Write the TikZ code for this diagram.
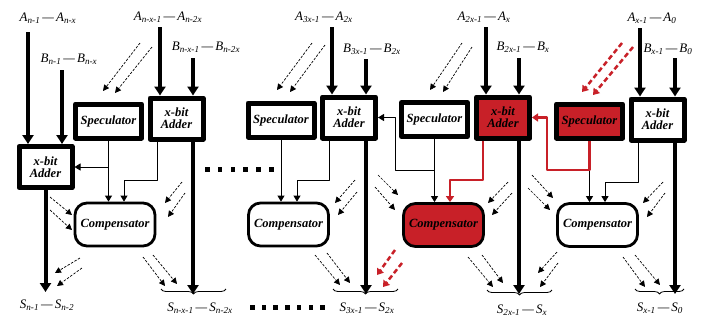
\documentclass[tikz,border=0pt]{standalone}
\usepackage{fontspec}
\setmainfont{Liberation Serif}
\usetikzlibrary{arrows.meta,decorations.pathreplacing}
\definecolor{hotred}{RGB}{200,32,40}
\newcommand{\boxfont}{\fontsize{12.5}{12}\selectfont\bfseries\itshape}
\newcommand{\sigfont}{\fontsize{13}{13}\selectfont\itshape}
\newcommand{\rng}[4]{#1\textsubscript{\itshape #2}\,---\,#3\textsubscript{\itshape #4}}
\tikzset{
  adder/.style={draw,line width=5pt,minimum width=53pt,minimum height=41pt,align=center,inner sep=1pt,font=\boxfont},
  spec/.style={draw,line width=5pt,minimum width=66pt,minimum height=34pt,inner sep=1pt,font=\boxfont},
  comp/.style={draw,line width=2.8pt,rounded corners=12pt,minimum width=80pt,minimum height=43pt,inner sep=1pt,font=\boxfont},
  bus/.style={line width=4pt,-{Triangle[length=9pt,width=11pt]}},
  wire/.style={line width=0.9pt,-{Triangle[length=6pt,width=7pt]}},
  rwire/.style={hotred,line width=2.2pt,-{Triangle[length=6pt,width=8pt]}},
  dasharr/.style={dash pattern=on 2.5pt off 1.5pt,line width=0.7pt,-{Triangle[length=6pt,width=6pt]}},
  rdash/.style={hotred,line width=2.5pt,dash pattern=on 5pt off 3pt,-{Triangle[length=6pt,width=8pt]}},
  brc/.style={decorate,decoration={brace,mirror,amplitude=5pt},line width=0.8pt},
  sig/.style={font=\sigfont,inner sep=1pt}
}
\begin{document}
\begin{tikzpicture}[x=1pt,y=-1pt,line join=round]
\useasboundingbox (0,0) rectangle (702,322);
% operand labels
\node[sig] (la1) at (48,18) {\rng{A}{n-1}{A}{n-x}};
\node[sig] (lb1) at (69,59) {\rng{B}{n-1}{B}{n-x}};
\node[sig] (la2) at (168,17) {\rng{A}{n-x-1}{A}{n-2x}};
\node[sig] (lb2) at (206,47) {\rng{B}{n-x-1}{B}{n-2x}};
\node[sig] (la3) at (324,17) {\rng{A}{3x-1}{A}{2x}};
\node[sig] (lb3) at (372,49) {\rng{B}{3x-1}{B}{2x}};
\node[sig] (la4) at (484,17) {\rng{A}{2x-1}{A}{x}};
\node[sig] (lb4) at (523,47) {\rng{B}{2x-1}{B}{x}};
\node[sig] (la5) at (652,18) {\rng{A}{x-1}{A}{0}};
\node[sig] (lb5) at (668,49) {\rng{B}{x-1}{B}{0}};
% sum labels
\node[sig] (s1) at (47,305) {\rng{S}{n-1}{S}{n-2}};
\node[sig] (s2) at (200,308) {\rng{S}{n-x-1}{S}{n-2x}};
\node[sig] (s3) at (367,308) {\rng{S}{3x-1}{S}{2x}};
\node[sig] (s4) at (522,310) {\rng{S}{2x-1}{S}{x}};
\node[sig] (s5) at (660,308) {\rng{S}{x-1}{S}{0}};
% blocks
\node[adder] (add1) at (45.5,167) {x-bit\\Adder};
\node[adder] (add2) at (176.5,118.5) {x-bit\\Adder};
\node[adder] (add3) at (349,117.5) {x-bit\\Adder};
\node[adder,fill=hotred] (add4) at (503,117.5) {x-bit\\Adder};
\node[adder] (add5) at (657.5,119.5) {x-bit\\Adder};
\node[spec] (spec1) at (108.5,121) {Speculator};
\node[spec] (spec2) at (281,120) {Speculator};
\node[spec] (spec3) at (434.5,119.5) {Speculator};
\node[spec,fill=hotred] (spec4) at (589.5,121) {Speculator};
\node[comp] (comp1) at (115,224.5) {Compensator};
\node[comp] (comp2) at (288.5,224.5) {Compensator};
\node[comp,fill=hotred] (comp3) at (443.5,225) {Compensator};
\node[comp] (comp4) at (597.5,225) {Compensator};
% operand inputs
\coordinate (a1) at (28,32);   \coordinate (b1) at (62,70);
\coordinate (a2) at (160,27);  \coordinate (b2) at (193,58);
\coordinate (a3) at (332,27);  \coordinate (b3) at (366,59);
\coordinate (a4) at (486,27);  \coordinate (b4) at (519,58);
\coordinate (a5) at (640,28);  \coordinate (b5) at (675,58);
\draw[bus] (a1) -- (a1 |- add1.north);
\draw[bus] (b1) -- (b1 |- add1.north);
\draw[bus] (a2) -- (a2 |- add2.north);
\draw[bus] (b2) -- (b2 |- add2.north);
\draw[bus] (a3) -- (a3 |- add3.north);
\draw[bus] (b3) -- (b3 |- add3.north);
\draw[bus] (a4) -- (a4 |- add4.north);
\draw[bus] (b4) -- (b4 |- add4.north);
\draw[bus] (a5) -- (a5 |- add5.north);
\draw[bus] (b5) -- (b5 |- add5.north);
% sum outputs
\coordinate (o1) at (45.5,292); \coordinate (o2) at (193,294);
\coordinate (o3) at (366,294);  \coordinate (o4) at (519,294);
\coordinate (o5) at (675,294);
\draw[bus] (add1.south) -- (o1);
\draw[bus] (o2 |- add2.south) -- (o2);
\draw[bus] (o3 |- add3.south) -- (o3);
\draw[bus] (o4 |- add4.south) -- (o4);
\draw[bus] (o5 |- add5.south) -- (o5);
\draw[brc] (161,289) -- (226,289);
\draw[brc] (333,289) -- (398,289);
\draw[brc] (487,290) -- (552,290);
\draw[brc] (635,289) -- (684,289);
% speculator and adder wires
\draw[wire] (spec1.south) -- (spec1.south |- comp1.north);
\draw[wire] (spec1.south |- add1.east) -- (add1.east);
\draw[wire] ([xshift=-19.5pt]add2.south) -- ++(0,38.5) -| ([xshift=9pt]comp1.north);
\draw[wire] (spec2.south) -- (spec2.south |- comp2.north);
\draw[wire] ([xshift=-20pt]add3.south) -- ++(0,39.5) -| ([xshift=8.5pt]comp2.north);
\draw[wire] (spec3.south) -- (spec3.south |- comp3.north);
\draw[wire] ([yshift=-31pt]spec3.south) -| ([xshift=17pt]add3.east) -- (add3.east);
\draw[rwire] ([xshift=-20pt]add4.south) -- ++(0,39.5) -| ([xshift=6.5pt]comp3.north);
\draw[wire] ([yshift=-29.5pt]spec4.south) -- (spec4.south |- comp4.north);
\draw[rwire] (spec4.south) -- ++(0,29.5) -| ([xshift=15pt]add4.east) -- (add4.east);
\draw[wire] ([xshift=-19.5pt]add5.south) -- ++(0,40) -| ([xshift=7.5pt]comp4.north);
% carry guesses
\foreach \xa/\ya/\xb/\yb in {140/43/103/91, 152/47/115/93, 50/197/72/215, 50/210/72/230,
  80/258/55/273, 82/268/57/286, 182/182/165/203, 185/193/168/217,
  143/257/165/286, 153/255/177/284, 312/43/277/90, 325/45/290/92,
  355/180/335/203, 357/192/338/215, 315/255/340/285, 327/253/350/283,
  378/175/398/195, 375/187/395/210, 462/43/430/90, 472/47/443/92,
  508/182/488/203, 512/193/492/215, 532/175/553/198, 528/188/550/210,
  468/257/493/287, 482/255/503/283, 557/252/538/273, 558/263/540/287,
  663/182/643/203, 665/193/647/217, 623/257/645/287, 635/255/660/285}
  \draw[dasharr] (\xa,\ya) -- (\xb,\yb);
\foreach \xa/\ya/\xb/\yb in {622/43/582/92, 633/47/593/95, 395/250/377/275, 402/263/383/287}
  \draw[rdash] (\xa,\ya) -- (\xb,\yb);
% ellipsis
\foreach \i in {0,...,5} \fill (205+12.8*\i,167) rectangle ++(4.5,4.5);
\foreach \i in {0,...,6} \fill (250+11.7*\i,305) rectangle ++(4.5,4.5);
\end{tikzpicture}
\end{document}
